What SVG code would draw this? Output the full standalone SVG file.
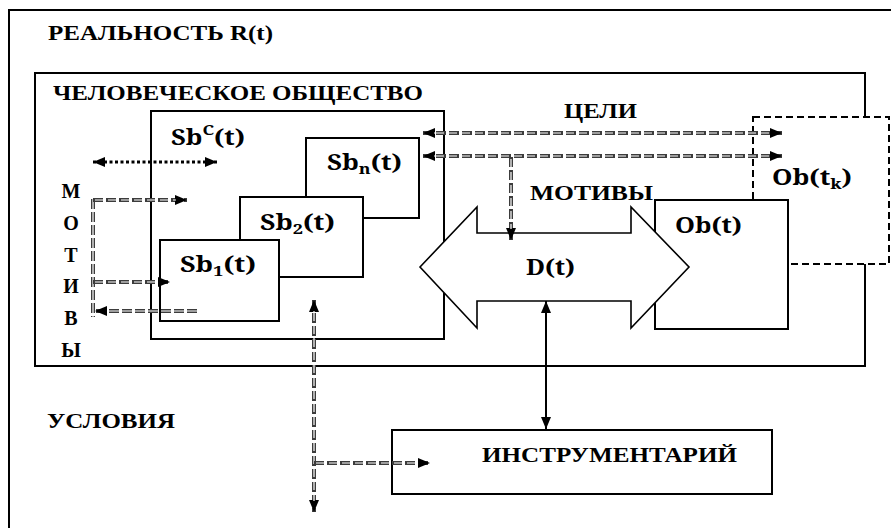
<svg xmlns="http://www.w3.org/2000/svg" width="891" height="528" viewBox="0 0 891 528">
<defs>
<style>
.frame{fill:none;stroke:#000;stroke-width:2}
.box{fill:#fff;stroke:#000;stroke-width:2}
.dbox{fill:#fff;stroke:#000;stroke-width:2;stroke-dasharray:7 4}
.arrowshape{fill:#fff;stroke:#000;stroke-width:1.6}
.cyr{font-family:'Liberation Serif','Times New Roman',serif;font-weight:700;font-size:22px;fill:#000}
.vert{font-size:20px}
.math{font-family:'Noto Serif','DejaVu Serif',serif;font-weight:700;font-size:22px;fill:#000}
.sub{font-size:15px}
.dbl{fill:none;stroke:#3c3c3c;stroke-width:4;stroke-dasharray:10 3}
.dblin{fill:none;stroke:#fff;stroke-width:1.2;stroke-dasharray:10 3}
.dot{fill:none;stroke:#000;stroke-width:3;stroke-dasharray:3 2.5}
.solid{fill:none;stroke:#000;stroke-width:2}
</style>
<marker id="ah" markerUnits="userSpaceOnUse" markerWidth="12" markerHeight="10" refX="12" refY="5" orient="auto-start-reverse" viewBox="0 0 12 10">
<path d="M0,0 L12,5 L0,10 z" fill="#000"/>
</marker>
</defs>

<g id="reality">
<rect class="frame" x="9" y="10" width="892" height="530"/>
<text class="cyr" x="48" y="40" textLength="225" lengthAdjust="spacingAndGlyphs">РЕАЛЬНОСТЬ R(t)</text>
</g>

<g id="society">
<rect class="frame" x="35" y="73" width="830" height="293"/>
<text class="cyr" x="53" y="100" textLength="370" lengthAdjust="spacingAndGlyphs">ЧЕЛОВЕЧЕСКОЕ ОБЩЕСТВО</text>
</g>

<g id="sbc">
<rect class="box" x="151" y="111" width="293" height="228"/>
<text class="math" x="171" y="145" textLength="74" lengthAdjust="spacingAndGlyphs">Sb<tspan class="sub" dy="-10">C</tspan><tspan dy="10">(t)</tspan></text>
</g>

<g id="sbn">
<rect class="box" x="306" y="138" width="113" height="80"/>
<text class="math" x="327" y="170" textLength="75" lengthAdjust="spacingAndGlyphs">Sb<tspan class="sub" dy="4">n</tspan><tspan dy="-4">(t)</tspan></text>
</g>

<g id="sb2">
<rect class="box" x="240" y="197" width="123" height="80"/>
<text class="math" x="260" y="230" textLength="75" lengthAdjust="spacingAndGlyphs">Sb<tspan class="sub" dy="4">2</tspan><tspan dy="-4">(t)</tspan></text>
</g>

<g id="sb1">
<rect class="box" x="160" y="240" width="119" height="81"/>
<text class="math" x="180" y="272" textLength="76" lengthAdjust="spacingAndGlyphs">Sb<tspan class="sub" dy="4">1</tspan><tspan dy="-4">(t)</tspan></text>
</g>

<g id="motivy-left" class="cyr vert" text-anchor="middle">
<text x="71" y="198">М</text>
<text x="71" y="230">О</text>
<text x="71" y="262">Т</text>
<text x="71" y="293">И</text>
<text x="71" y="325">В</text>
<text x="71" y="357">Ы</text>
</g>

<g id="obtk">
<rect class="dbox" x="753" y="117" width="136" height="147"/>
<text class="math" x="772" y="185" textLength="80" lengthAdjust="spacingAndGlyphs">Ob(t<tspan class="sub" dy="4">k</tspan><tspan dy="-4">)</tspan></text>
</g>

<g id="obt">
<rect class="box" x="655" y="200" width="133" height="129"/>
<text class="math" x="675" y="233" textLength="67" lengthAdjust="spacingAndGlyphs">Ob(t)</text>
</g>

<g id="dt">
<polygon class="arrowshape" points="420,267 477,207 477,233 631,233 631,207 689,267 631,328 631,301 477,301 477,328"/>
<text class="math" x="526" y="275" textLength="49" lengthAdjust="spacingAndGlyphs">D(t)</text>
</g>

<g id="labels" class="cyr">
<text x="564" y="118" textLength="73" lengthAdjust="spacingAndGlyphs">ЦЕЛИ</text>
<text x="530" y="200" textLength="123" lengthAdjust="spacingAndGlyphs">МОТИВЫ</text>
<text x="47" y="428" textLength="128" lengthAdjust="spacingAndGlyphs">УСЛОВИЯ</text>
</g>

<g id="instr">
<rect class="box" x="392" y="430" width="380" height="64"/>
<text class="cyr" x="482" y="462" textLength="255" lengthAdjust="spacingAndGlyphs">ИНСТРУМЕНТАРИЙ</text>
</g>

<g id="connectors">
<path class="dot" d="M93,162 H217" marker-start="url(#ah)" marker-end="url(#ah)"/>

<path class="dbl" d="M423,133 H782" marker-start="url(#ah)" marker-end="url(#ah)"/>
<path class="dblin" d="M434,133 H771"/>
<path class="dbl" d="M423,156 H782" marker-start="url(#ah)" marker-end="url(#ah)"/>
<path class="dblin" d="M434,156 H771"/>
<path class="dbl" d="M511,157 V240" marker-end="url(#ah)"/>
<path class="dblin" d="M511,159 V229"/>

<path class="dbl" d="M93,199 V317"/>
<path class="dblin" d="M93,199 V317"/>
<path class="dbl" d="M93,200 H187" marker-end="url(#ah)"/>
<path class="dblin" d="M95,200 H176"/>
<path class="dbl" d="M93,282 H170" marker-end="url(#ah)"/>
<path class="dblin" d="M95,282 H159"/>
<path class="dbl" d="M197,311 H95" marker-end="url(#ah)"/>
<path class="dblin" d="M197,311 H106"/>

<path class="dbl" d="M314,300 V512" marker-start="url(#ah)" marker-end="url(#ah)"/>
<path class="dblin" d="M314,311 V501"/>
<path class="dbl" d="M314,463 H430" marker-end="url(#ah)"/>
<path class="dblin" d="M316,463 H419"/>

<path class="solid" d="M546,301 V429" marker-start="url(#ah)" marker-end="url(#ah)"/>
</g>
</svg>
